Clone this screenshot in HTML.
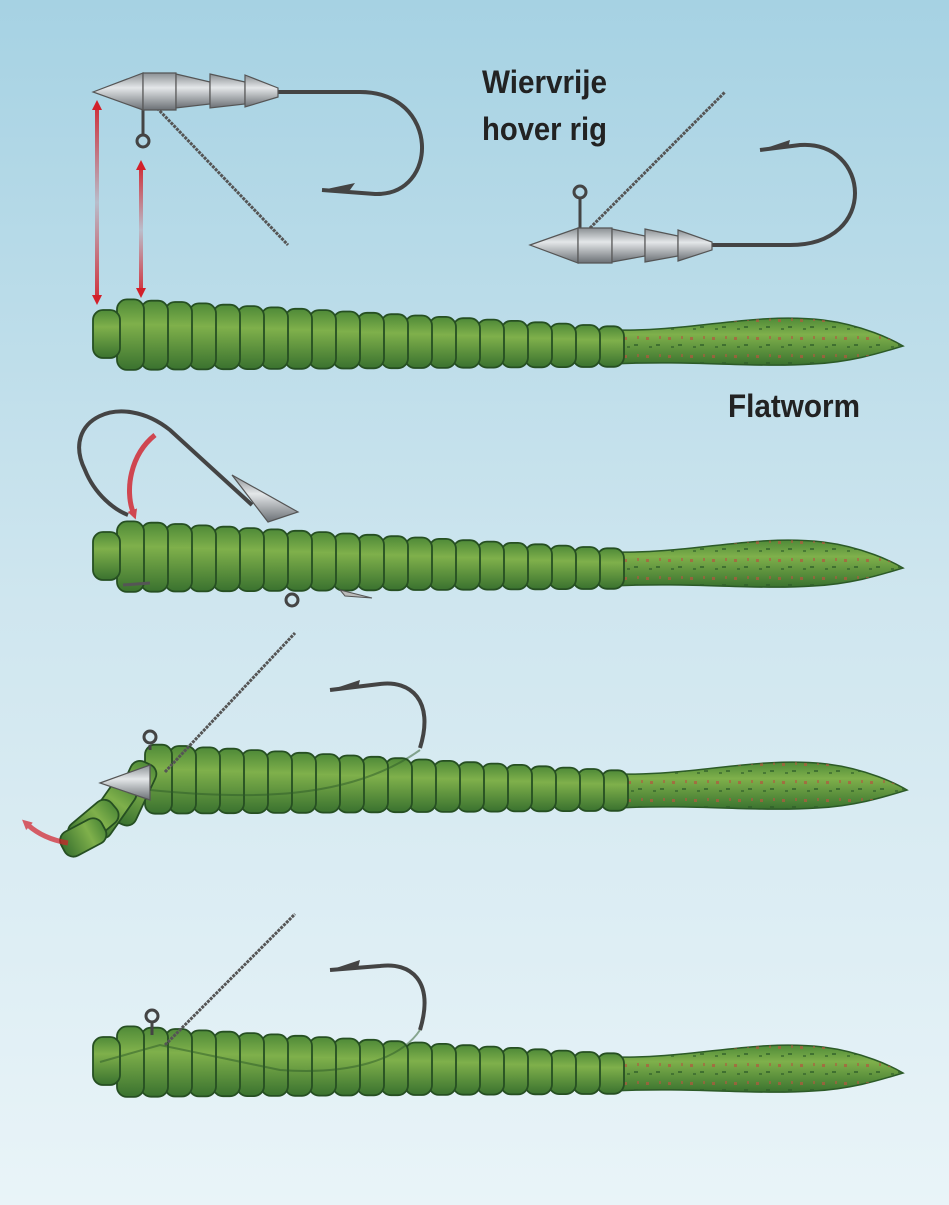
<!DOCTYPE html>
<html><head><meta charset="utf-8"><style>
html,body{margin:0;padding:0}
body{width:949px;height:1205px;overflow:hidden;background:linear-gradient(#a6d2e3,#cfe6ef 50%,#e9f4f8)}
svg{position:absolute;left:0;top:0}
</style></head><body>
<svg width="949" height="1205" viewBox="0 0 949 1205" xmlns="http://www.w3.org/2000/svg">
<defs>
<linearGradient id="seg" x1="0" y1="0" x2="0" y2="1">
<stop offset="0" stop-color="#4f8a38"/><stop offset=".35" stop-color="#7fb04b"/><stop offset="1" stop-color="#3a722f"/></linearGradient>
<linearGradient id="lead" x1="0" y1="0" x2="0" y2="1">
<stop offset="0" stop-color="#8a8f93"/><stop offset=".4" stop-color="#e4e7e9"/><stop offset="1" stop-color="#6b7075"/></linearGradient>
<pattern id="spk" width="22" height="18" patternUnits="userSpaceOnUse">
<rect x="3" y="3" width="3" height="3" fill="#b4573f" opacity=".7"/>
<rect x="13" y="10" width="4" height="2" fill="#2f5e2a" opacity=".7"/>
<rect x="16" y="2" width="2" height="3" fill="#b4573f" opacity=".6"/>
<rect x="6" y="12" width="3" height="2" fill="#2f5e2a" opacity=".6"/>
</pattern>
<linearGradient id="ra1" gradientUnits="userSpaceOnUse" x1="0" y1="95" x2="0" y2="310">
<stop offset="0" stop-color="#d2202a"/><stop offset=".5" stop-color="#d2202a" stop-opacity=".15"/><stop offset="1" stop-color="#d2202a"/></linearGradient>
<linearGradient id="ra2" gradientUnits="userSpaceOnUse" x1="0" y1="160" x2="0" y2="300">
<stop offset="0" stop-color="#d2202a"/><stop offset=".5" stop-color="#d2202a" stop-opacity=".15"/><stop offset="1" stop-color="#d2202a"/></linearGradient>
<g id="tail">
<path d="M520,-4 C600,-2 660,-22 730,-14 C770,-9 800,6 810,12 C790,18 760,28 720,30 C660,34 600,26 520,30 Z" fill="url(#seg)" stroke="#2c5a27" stroke-width="1.5"/>
<path d="M520,-4 C600,-2 660,-22 730,-14 C770,-9 800,6 810,12 C790,18 760,28 720,30 C660,34 600,26 520,30 Z" fill="url(#spk)"/>
</g>
<g id="segs" stroke="#264f22" stroke-width="1.8">
<rect x="504" y="-7.7" width="27" height="40.5" rx="10" fill="url(#seg)"/>
<rect x="480" y="-9" width="27" height="42" rx="10" fill="url(#seg)"/>
<rect x="456" y="-10.4" width="27" height="43.5" rx="10" fill="url(#seg)"/>
<rect x="432" y="-11.7" width="27" height="45" rx="10" fill="url(#seg)"/>
<rect x="408" y="-13.1" width="27" height="46.5" rx="10" fill="url(#seg)"/>
<rect x="384" y="-14.4" width="27" height="48" rx="10" fill="url(#seg)"/>
<rect x="360" y="-15.8" width="27" height="49.5" rx="10" fill="url(#seg)"/>
<rect x="336" y="-17.1" width="27" height="51" rx="10" fill="url(#seg)"/>
<rect x="312" y="-18.5" width="27" height="52.5" rx="10" fill="url(#seg)"/>
<rect x="288" y="-19.8" width="27" height="54" rx="10" fill="url(#seg)"/>
<rect x="264" y="-21.2" width="27" height="55.5" rx="10" fill="url(#seg)"/>
<rect x="240" y="-22.5" width="27" height="57" rx="10" fill="url(#seg)"/>
<rect x="216" y="-23.9" width="27" height="58.5" rx="10" fill="url(#seg)"/>
<rect x="192" y="-25.2" width="27" height="60" rx="10" fill="url(#seg)"/>
<rect x="168" y="-26.6" width="27" height="61.5" rx="10" fill="url(#seg)"/>
<rect x="144" y="-27.9" width="27" height="63" rx="10" fill="url(#seg)"/>
<rect x="120" y="-29.3" width="27" height="64.5" rx="10" fill="url(#seg)"/>
<rect x="96" y="-30.6" width="27" height="66" rx="10" fill="url(#seg)"/>
<rect x="72" y="-32" width="27" height="67.5" rx="10" fill="url(#seg)"/>
<rect x="48" y="-33.3" width="27" height="69" rx="10" fill="url(#seg)"/>
</g>
<g id="head" stroke="#264f22" stroke-width="1.8">
<rect x="24" y="-34.6" width="27" height="70.5" rx="10" fill="url(#seg)"/>
<rect x="0" y="-24" width="27" height="48" rx="10" fill="url(#seg)"/>
</g>
<g id="wormfull"><use href="#tail"/><use href="#segs"/><use href="#head"/></g>
<g id="wormb"><use href="#tail"/><use href="#segs"/></g>
<marker id="ah" markerWidth="10" markerHeight="10" refX="2" refY="5" orient="auto-start-reverse" markerUnits="userSpaceOnUse"><path d="M0,0 L10,5 L0,10 Z" fill="#d2202a"/></marker>
</defs>

<text x="482" y="93" textLength="125" lengthAdjust="spacingAndGlyphs" font-family="Liberation Sans, sans-serif" font-weight="bold" font-size="32" fill="#222">Wiervrije</text>
<text x="482" y="140" textLength="125" lengthAdjust="spacingAndGlyphs" font-family="Liberation Sans, sans-serif" font-weight="bold" font-size="32" fill="#222">hover rig</text>
<text x="728" y="417" textLength="132" lengthAdjust="spacingAndGlyphs" font-family="Liberation Sans, sans-serif" font-weight="bold" font-size="32" fill="#222">Flatworm</text>

<!-- rig 1 -->
<line x1="157" y1="108" x2="288" y2="245" stroke="#555" stroke-width="3" stroke-dasharray="3 1"/>
<path d="M278,92 L360,92 C440,92 440,196 375,194 L322,190" fill="none" stroke="#444" stroke-width="4"/>
<path d="M322,190 L355,183 L350,190 Z" fill="#444"/>
<line x1="143" y1="104" x2="143" y2="135" stroke="#444" stroke-width="3"/>
<circle cx="143" cy="141" r="6" fill="none" stroke="#444" stroke-width="3"/>
<g stroke="#555" stroke-width="1.2" fill="url(#lead)">
<path d="M93,92 L143,73 L143,110 Z"/>
<path d="M143,73 L176,73 L176,110 L143,110 Z"/>
<path d="M176,74 L210,82 L210,104 L176,108 Z"/>
<path d="M210,74 L245,82 L245,104 L210,108 Z"/>
<path d="M245,75 L278,88 L278,97 L245,107 Z"/>
</g>
<line x1="97" y1="108" x2="97" y2="297" stroke="url(#ra1)" stroke-width="4" marker-start="url(#ah)" marker-end="url(#ah)"/>
<line x1="141" y1="168" x2="141" y2="290" stroke="url(#ra2)" stroke-width="4" marker-start="url(#ah)" marker-end="url(#ah)"/>

<!-- rig 2 -->
<line x1="590" y1="228" x2="725" y2="92" stroke="#555" stroke-width="3" stroke-dasharray="3 1"/>
<path d="M710,245 L790,245 C880,245 870,140 800,145 L760,150" fill="none" stroke="#444" stroke-width="4"/>
<path d="M760,150 L790,140 L788,148 Z" fill="#444"/>
<line x1="580" y1="228" x2="580" y2="198" stroke="#444" stroke-width="3"/>
<circle cx="580" cy="192" r="6" fill="none" stroke="#444" stroke-width="3"/>
<g stroke="#555" stroke-width="1.2" fill="url(#lead)">
<path d="M530,245 L578,228 L578,263 Z"/>
<path d="M578,228 L612,228 L612,263 L578,263 Z"/>
<path d="M612,229 L645,236 L645,256 L612,262 Z"/>
<path d="M645,229 L678,236 L678,256 L645,262 Z"/>
<path d="M678,230 L712,242 L712,250 L678,261 Z"/>
</g>

<!-- worm 1 -->
<use href="#wormfull" transform="translate(93,334)"/>

<!-- worm 2 -->
<use href="#wormfull" transform="translate(93,556)"/>
<path d="M252,505 L170,430 C120,390 60,420 85,470 C95,495 115,510 128,515" fill="none" stroke="#444" stroke-width="4"/>
<g stroke="#555" stroke-width="1.2" fill="url(#lead)"><path d="M232,475 L298,512 L268,522 Z"/></g>
<path d="M155,435 C130,455 125,490 133,512" fill="none" stroke="#d2202a" stroke-width="5" opacity=".8" marker-end="url(#ah)"/>
<line x1="123" y1="585" x2="150" y2="583" stroke="#555" stroke-width="3"/>
<circle cx="292" cy="600" r="6" fill="none" stroke="#444" stroke-width="3"/>
<path d="M340,590 L372,598 L345,596 Z" fill="#bbb" stroke="#555"/>

<!-- worm 3 -->
<use href="#wormb" transform="translate(97,778)"/>
<g stroke="#264f22" stroke-width="1.8" fill="url(#seg)">
<rect x="120" y="760" width="27" height="66" rx="10" transform="rotate(25 133 793)"/>
<rect x="98" y="778" width="27" height="62" rx="10" transform="rotate(35 111 809)"/>
<rect x="80" y="796" width="27" height="54" rx="10" transform="rotate(50 93 823)"/>
<rect x="70" y="814" width="27" height="46" rx="10" transform="rotate(62 83 837)"/>
</g>
<line x1="165" y1="772" x2="295" y2="633" stroke="#555" stroke-width="3" stroke-dasharray="3 1"/>
<path d="M150,750 L150,745" stroke="#444" stroke-width="3"/>
<circle cx="150" cy="737" r="6" fill="none" stroke="#444" stroke-width="3"/>
<g stroke="#555" stroke-width="1.2" fill="url(#lead)"><path d="M100,783 L150,765 L150,800 Z"/></g>
<path d="M420,748 C435,700 410,680 380,684 L330,690" fill="none" stroke="#444" stroke-width="4"/>
<path d="M330,690 L360,680 L358,688 Z" fill="#444"/>
<path d="M150,790 C250,800 350,800 420,750" fill="none" stroke="#2c5a27" stroke-width="2" opacity=".5"/>
<path d="M68,843 C50,840 38,834 28,825" fill="none" stroke="#d2202a" stroke-width="5" opacity=".7" marker-end="url(#ah)"/>

<!-- worm 4 -->
<use href="#wormfull" transform="translate(93,1061)"/>
<line x1="165" y1="1045" x2="295" y2="914" stroke="#555" stroke-width="3" stroke-dasharray="3 1"/>
<circle cx="152" cy="1016" r="6" fill="none" stroke="#444" stroke-width="3"/>
<line x1="152" y1="1022" x2="152" y2="1035" stroke="#444" stroke-width="3"/>
<path d="M420,1030 C435,980 410,962 380,966 L330,970" fill="none" stroke="#444" stroke-width="4"/>
<path d="M330,970 L360,960 L358,968 Z" fill="#444"/>
<path d="M100,1062 L160,1045 L280,1070 C350,1075 400,1060 420,1030" fill="none" stroke="#2c5a27" stroke-width="2" opacity=".5"/>
</svg>
</body></html>
